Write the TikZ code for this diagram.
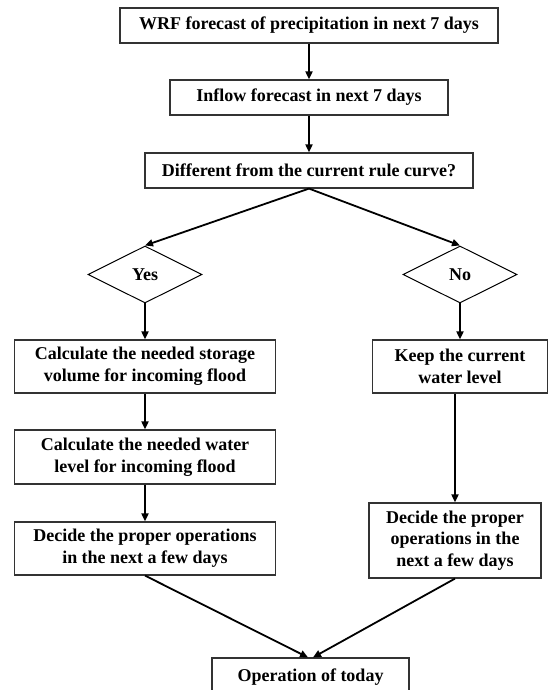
\documentclass[tikz,border=0pt]{standalone}
\usepackage{fontspec}
\setmainfont{Liberation Serif}
\usetikzlibrary{shapes.geometric,arrows.meta}
\begin{document}
\begin{tikzpicture}[x=0.5pt,y=0.5pt,
        box/.style={draw=black!80,line width=0.6pt,align=center,inner sep=0pt,
            font=\bfseries\fontsize{9}{10.8}\selectfont},
        choice/.style={draw,diamond,line width=0.5pt,inner sep=0pt,aspect=2,
            minimum width=57pt,minimum height=28.5pt,font=\bfseries\fontsize{9}{10.8}\selectfont},
        flow/.style={line width=0.9pt,-{Triangle[length=4pt,width=3.5pt]}}]
        \useasboundingbox (0,0) rectangle (548,690);
        \node[box,minimum width=189pt,minimum height=17.5pt] (wrf) at (309,664.5) {WRF forecast of precipitation in next 7 days};
        \node[box,minimum width=139pt,minimum height=17.5pt] (inflow) at (309,592.5) {Inflow forecast in next 7 days};
        \node[box,minimum width=164pt,minimum height=17.5pt] (diff) at (309,519.5) {Different from the current rule curve?};
        \node[choice] (yes) at (145,415.5) {Yes};
        \node[choice] (no) at (460,415.5) {No};
        \node[box,minimum width=130.5pt,minimum height=26.5pt] (storage) at (145,323.5) {Calculate the needed storage\\volume for incoming flood};
        \node[box,minimum width=130.5pt,minimum height=27pt] (level) at (145,233) {Calculate the needed water\\level for incoming flood};
        \node[box,minimum width=130.5pt,minimum height=26.5pt] (decleft) at (145,141.5) {Decide the proper operations\\in the next a few days};
        \node[box,minimum width=87.5pt,minimum height=26.5pt] (keep) at (460,323.5) {Keep the current\\water level};
        \node[box,minimum width=86pt,minimum height=37.5pt] (decright) at (455,149.5) {Decide the proper\\operations in the\\next a few days};
        \node[box,minimum width=98.5pt,minimum height=19pt] (today) at (310.5,13) {Operation of today};
        \draw[flow] (wrf) -- (inflow);
        \draw[flow] (inflow) -- (diff);
        \draw[flow] (diff.south) -- (yes.north);
        \draw[flow] (diff.south) -- (no.north);
        \draw[flow] (yes.south) -- (storage.north);
        \draw[flow] (no.south) -- (keep.north);
        \draw[flow] (storage) -- (level);
        \draw[flow] (level) -- (decleft);
        \draw[flow] (decright.north |- keep.south) -- (decright.north);
        \draw[flow] (decleft.south) -- ([xshift=-1.25pt]today.north);
        \draw[flow] (decright.south) -- ([xshift=1.25pt]today.north);
\end{tikzpicture}
\end{document}
